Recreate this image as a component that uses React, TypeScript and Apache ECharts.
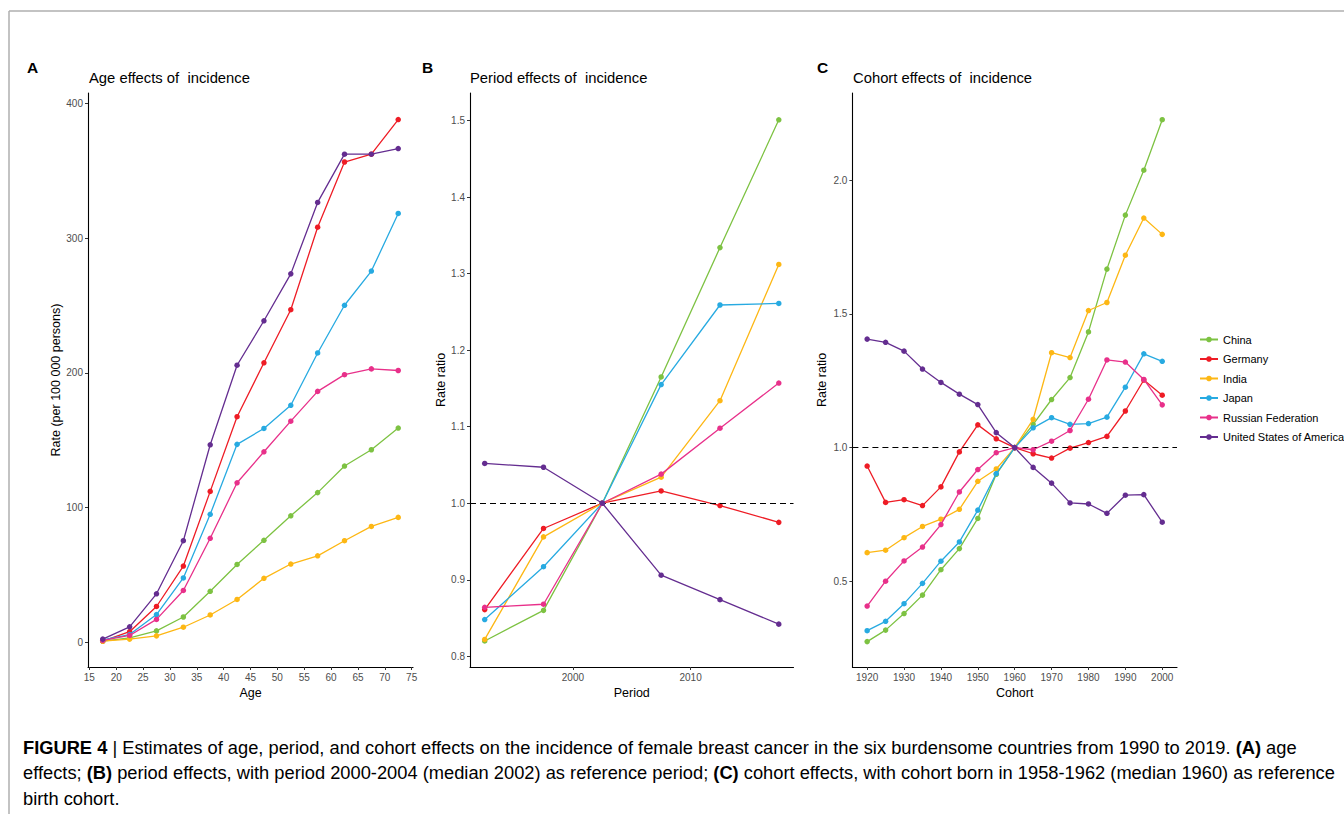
import React, { useEffect, useRef } from "react";
import * as echarts from "echarts";

const countries = ["China", "Germany", "India", "Japan", "Russian Federation", "United States of America"];
const colors = ["#7DC242", "#EE1C25", "#FDB714", "#27AAE1", "#E8308A", "#642D90"];

// Panel A: age effects
const ageGroups = [17.5, 22.5, 27.5, 32.5, 37.5, 42.5, 47.5, 52.5, 57.5, 62.5, 67.5, 72.5];
const ageChina = [0.9, 3.3, 8.5, 18.8, 37.9, 57.8, 75.7, 93.9, 111.1, 130.8, 142.9, 159.0];
const ageGermany = [0.9, 7.9, 26.6, 56.6, 112.0, 167.4, 207.4, 246.8, 308.0, 356.4, 362.2, 387.9];
const ageIndia = [0.9, 2.4, 4.8, 11.2, 20.3, 31.8, 47.5, 58.1, 64.2, 75.4, 86.0, 92.7];
const ageJapan = [1.8, 5.8, 20.6, 47.8, 95.0, 146.9, 158.7, 175.9, 214.7, 250.1, 275.5, 318.2];
const ageRussia = [1.5, 5.1, 17.0, 38.5, 77.2, 118.4, 141.4, 164.1, 186.2, 198.6, 202.9, 201.7];
const ageUSA = [2.4, 11.5, 36.0, 75.4, 146.6, 205.6, 238.6, 273.4, 326.4, 362.2, 362.2, 366.4];

// Panel B: period effects
const periods = [1992.5, 1997.5, 2002.5, 2007.5, 2012.5, 2017.5];
const perChina = [0.820, 0.860, 1.0, 1.165, 1.334, 1.501];
const perGermany = [0.861, 0.967, 1.0, 1.016, 0.997, 0.975];
const perIndia = [0.822, 0.956, 1.0, 1.034, 1.134, 1.312];
const perJapan = [0.848, 0.917, 1.0, 1.155, 1.259, 1.261];
const perRussia = [0.864, 0.868, 1.0, 1.038, 1.098, 1.157];
const perUSA = [1.052, 1.047, 1.0, 0.906, 0.874, 0.842];

// Panel C: cohort effects
const cohorts = [1920, 1925, 1930, 1935, 1940, 1945, 1950, 1955, 1960, 1965, 1970, 1975, 1980, 1985, 1990, 1995, 2000];
const cohChina = [0.274, 0.317, 0.379, 0.448, 0.543, 0.622, 0.735, 0.900, 1.0, 1.087, 1.180, 1.262, 1.433, 1.668, 1.870, 2.038, 2.227];
const cohGermany = [0.931, 0.795, 0.805, 0.783, 0.853, 0.984, 1.085, 1.033, 1.0, 0.977, 0.961, 0.998, 1.019, 1.042, 1.137, 1.253, 1.196];
const cohIndia = [0.607, 0.616, 0.663, 0.705, 0.732, 0.769, 0.874, 0.920, 1.0, 1.106, 1.355, 1.337, 1.513, 1.543, 1.720, 1.859, 1.798];
const cohJapan = [0.315, 0.350, 0.416, 0.492, 0.575, 0.647, 0.766, 0.903, 1.0, 1.074, 1.112, 1.087, 1.090, 1.114, 1.226, 1.351, 1.323];
const cohRussia = [0.407, 0.500, 0.576, 0.628, 0.712, 0.834, 0.918, 0.981, 1.0, 0.992, 1.024, 1.064, 1.181, 1.328, 1.320, 1.255, 1.160];
const cohUSA = [1.406, 1.394, 1.361, 1.294, 1.244, 1.200, 1.161, 1.056, 1.0, 0.926, 0.867, 0.793, 0.789, 0.754, 0.822, 0.824, 0.721];

// Tick labels
const ageTicksX = [15, 20, 25, 30, 35, 40, 45, 50, 55, 60, 65, 70, 75];
const ageTicksY = [0, 100, 200, 300, 400];
const periodTicksX = [2000, 2010];
const periodTicksY = [0.8, 0.9, 1.0, 1.1, 1.2, 1.3, 1.4, 1.5];
const cohortTicksX = [1920, 1930, 1940, 1950, 1960, 1970, 1980, 1990, 2000];
const cohortTicksY = [0.5, 1.0, 1.5, 2.0];

const panelTitles = ["Age effects of  incidence", "Period effects of  incidence", "Cohort effects of  incidence"];
const panelLetters = ["A", "B", "C"];
const xNames = ["Age", "Period", "Cohort"];
const yNames = ["Rate (per 100 000 persons)", "Rate ratio", "Rate ratio"];

const captionLine1 = [
  { b: true, t: "FIGURE 4" },
  { s: true, t: " | " },
  { t: "Estimates of age, period, and cohort effects on the incidence of female breast cancer in the six burdensome countries from 1990 to 2019. " },
  { b: true, t: "(A)" },
  { t: " age" },
];
const captionLine2 = [
  { t: "effects; " },
  { b: true, t: "(B)" },
  { t: " period effects, with period 2000-2004 (median 2002) as reference period; " },
  { b: true, t: "(C)" },
  { t: " cohort effects, with cohort born in 1958-1962 (median 1960) as reference" },
];
const captionLine3 = [{ t: "birth cohort." }];

const FONT = "'Liberation Sans', Arial, Helvetica, sans-serif";

function richText(parts: any[]) {
  return parts
    .map((p) => {
      const key = p.b ? "b" : p.s ? "s" : "n";
      return `{${key}|${p.t}}`;
    })
    .join("");
}

export default function App() {
  const ref = useRef<HTMLDivElement>(null);
  useEffect(() => {
    if (!ref.current) return;
    const chart = echarts.init(ref.current, null, { renderer: "svg" });

    const gridTop = 93;
    const gridHeight = 574;
    const grids = [
      { left: 88, top: gridTop, width: 325, height: gridHeight },
      { left: 470, top: gridTop, width: 323.5, height: gridHeight },
      { left: 852.4, top: gridTop, width: 324.6, height: gridHeight },
    ];

    const xRanges = [
      [14.75, 75.25],
      [1991.25, 2018.75],
      [1916, 2004],
    ];
    const yRanges = [
      [-18.3, 407.6],
      [0.786, 1.536],
      [0.179, 2.327],
    ];
    const xTicks = [ageTicksX, periodTicksX, cohortTicksX];
    const yTicks = [ageTicksY, periodTicksY, cohortTicksY];
    const yNameGaps = [26, 23, 24];

    const axisCommon = (i: number) => ({
      gridIndex: i,
      type: "value",
      axisLine: { show: true, onZero: false, lineStyle: { color: "#000", width: 1.1 } },
      splitLine: { show: false },
    });

    const xAxis = [0, 1, 2].map((i) => ({
      ...axisCommon(i),
      min: xRanges[i][0],
      max: xRanges[i][1],
      name: xNames[i],
      nameLocation: "middle",
      nameGap: 16,
      nameTextStyle: { fontSize: 12.5, color: "#000", fontFamily: FONT },
      axisTick: { show: true, length: 3, customValues: xTicks[i], lineStyle: { color: "#333" } },
      axisLabel: {
        customValues: xTicks[i],
        color: "#4D4D4D",
        fontSize: 10,
        margin: 5,
        fontFamily: FONT,
        formatter: (v: number) => String(v),
      },
    }));

    const yAxis = [0, 1, 2].map((i) => ({
      ...axisCommon(i),
      min: yRanges[i][0],
      max: yRanges[i][1],
      name: yNames[i],
      nameLocation: "middle",
      nameGap: yNameGaps[i],
      nameTextStyle: { fontSize: 12.5, color: "#000", fontFamily: FONT },
      axisTick: { show: true, length: 3, customValues: yTicks[i], lineStyle: { color: "#333" } },
      axisLabel: {
        customValues: yTicks[i],
        color: "#4D4D4D",
        fontSize: 10,
        margin: 5,
        fontFamily: FONT,
        formatter: (v: number) => (i === 0 ? String(Math.round(v)) : v.toFixed(1)),
      },
    }));

    const panelX = [ageGroups, periods, cohorts];
    const panelData = [
      [ageChina, ageGermany, ageIndia, ageJapan, ageRussia, ageUSA],
      [perChina, perGermany, perIndia, perJapan, perRussia, perUSA],
      [cohChina, cohGermany, cohIndia, cohJapan, cohRussia, cohUSA],
    ];

    const series: any[] = [];
    for (let p = 0; p < 3; p++) {
      if (p > 0) {
        series.push({
          type: "line",
          name: "ref" + p,
          xAxisIndex: p,
          yAxisIndex: p,
          data: [],
          silent: true,
          z: 1,
          markLine: {
            silent: true,
            symbol: "none",
            label: { show: false },
            lineStyle: { color: "#000", type: [6, 4], width: 1.2 },
            data: [{ yAxis: 1 }],
          },
        });
      }
      for (let c = 0; c < countries.length; c++) {
        series.push({
          type: "line",
          name: countries[c],
          xAxisIndex: p,
          yAxisIndex: p,
          data: panelX[p].map((x, k) => [x, panelData[p][c][k]]),
          symbol: "circle",
          symbolSize: 5.5,
          showSymbol: true,
          lineStyle: { color: colors[c], width: 1.3 },
          itemStyle: { color: colors[c] },
          z: 2 + c,
        });
      }
    }

    const titles: any[] = [];
    const titleLefts = [89, 470, 853];
    const letterLefts = [27, 422, 817];
    for (let i = 0; i < 3; i++) {
      titles.push({
        text: panelTitles[i],
        left: titleLefts[i],
        top: 70,
        padding: 0,
        textStyle: { fontSize: 14.8, fontWeight: "normal", color: "#000", fontFamily: FONT },
      });
      titles.push({
        text: panelLetters[i],
        left: letterLefts[i],
        top: 59,
        padding: 0,
        textStyle: { fontSize: 15.5, fontWeight: "bold", color: "#000", fontFamily: FONT },
      });
    }

    const captionRich = {
      n: { fontSize: 18.3, color: "#3A3A3A", fontFamily: FONT },
      b: { fontSize: 18.3, color: "#222", fontWeight: "bold", fontFamily: FONT },
      s: { fontSize: 18.3, color: "#999", fontFamily: FONT },
    };

    const option: any = {
      animation: false,
      backgroundColor: "#fff",
      textStyle: { fontFamily: FONT },
      title: titles,
      grid: grids,
      xAxis,
      yAxis,
      legend: {
        data: countries,
        orient: "vertical",
        left: 1199,
        top: 334,
        padding: 0,
        itemWidth: 18,
        itemHeight: 7,
        itemGap: 8.5,
        textStyle: { fontSize: 11, color: "#000", fontFamily: FONT },
        selectedMode: false,
      },
      series,
      graphic: [
        {
          type: "line",
          shape: { x1: 9, y1: 11, x2: 1344, y2: 11 },
          style: { stroke: "#AFAFAF", lineWidth: 1.5 },
        },
        {
          type: "line",
          shape: { x1: 9, y1: 11, x2: 9, y2: 814 },
          style: { stroke: "#AFAFAF", lineWidth: 1.5 },
        },
        {
          type: "text",
          x: 23,
          y: 747,
          style: { text: richText(captionLine1), rich: captionRich, verticalAlign: "middle" },
        },
        {
          type: "text",
          x: 23,
          y: 772.5,
          style: { text: richText(captionLine2), rich: captionRich, verticalAlign: "middle" },
        },
        {
          type: "text",
          x: 23,
          y: 798,
          style: { text: richText(captionLine3), rich: captionRich, verticalAlign: "middle" },
        },
      ],
    };

    chart.setOption(option);
    return () => chart.dispose();
  }, []);

  return (
    <div
      ref={ref}
      style={{ position: "fixed", left: 0, top: 0, width: 1344, height: 814, background: "#fff" }}
    />
  );
}
